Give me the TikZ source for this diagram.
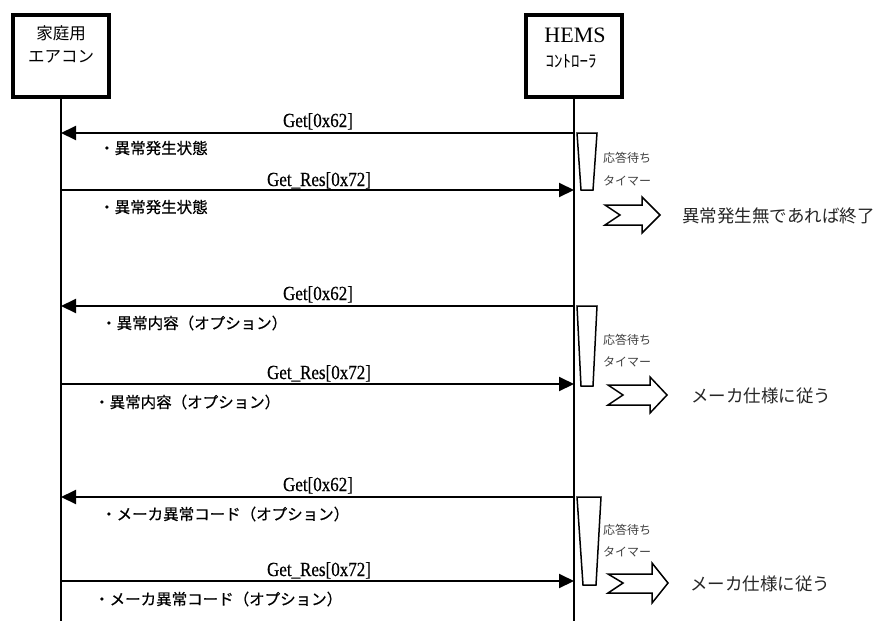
\documentclass[tikz,border=0pt]{standalone}
\usepackage{fontspec}
\setmainfont{Liberation Serif}
\newfontfamily\jp{Noto Sans CJK JP}
\newfontfamily\jpb[FakeBold=0.6]{Noto Sans CJK JP}
\newfontfamily\lab[FakeStretch=0.85,FakeBold=0.5]{Liberation Serif}
\usetikzlibrary{arrows.meta}
\tikzset{
  actor/.style={draw, line width=3.5pt, minimum width=96pt, minimum height=82pt, inner sep=0pt},
  life/.style={line width=1.5pt},
  msg/.style={line width=2pt, -{Triangle[length=15pt,width=14pt]}},
  msglabel/.style={font=\lab\fontsize{20}{22}\selectfont, inner sep=0pt, anchor=base},
  note/.style={font=\jpb\fontsize{15.5}{18}\selectfont, anchor=west, inner sep=0pt},
  timer/.style={draw, line width=1.5pt, fill=white},
  timerlabel/.style={font=\jp\fontsize{12}{14}\selectfont, text=black!75, anchor=west, inner sep=0pt},
  hollow/.style={draw, line width=1.5pt, fill=white},
  result/.style={font=\jp\fontsize{17.5}{20}\selectfont, text=black!85, anchor=west, inner sep=0pt}
}
\begin{document}
\begin{tikzpicture}[x=1pt,y=-1pt]
\useasboundingbox (0,0) rectangle (882,621);
% actors
\node[actor] (lbox) at (61,56) {};
\node[actor] (rbox) at (574,56) {};
\node[font=\jp\fontsize{16.5}{18}\selectfont, inner sep=0pt] (l1) at (61,33) {家庭用};
\node[font=\jp\fontsize{16.5}{18}\selectfont, inner sep=0pt] (l2) at (61,57) {エアコン};
\node[font=\fontsize{22}{24}\selectfont, inner sep=0pt] (r1) at (575,35) {HEMS};
\node[font=\jp\fontsize{17}{19}\selectfont, inner sep=0pt] (r2) at (571,61) {ｺﾝﾄﾛｰﾗ};
% lifelines
\coordinate (lbot) at (61,621);
\coordinate (rbot) at (574,621);
\draw[life] (lbox.south) -- (lbot);
\draw[life] (rbox.south) -- (rbot);

% ---------- section 1
\coordinate (a1r) at (574,133); \coordinate (a1l) at (61,133);
\coordinate (b1l) at (61,190);  \coordinate (b1r) at (574,190);
\draw[msg] (a1r) -- (a1l);
\draw[msg] (b1l) -- (b1r);
\node[msglabel] (ga1) at (318,127) {Get[0x62]};
\node[msglabel] (gb1) at (319,186) {Get\_Res[0x72]};
\node[note] (na1) at (99,148) {・異常発生状態};
\node[note] (nb1) at (99,207) {・異常発生状態};
\draw[timer] (577,133) -- (597,133) -- (593,190) -- (581,190) -- cycle;
\node[timerlabel] (ta1) at (603,158) {応答待ち};
\node[timerlabel] (tb1) at (603,181) {タイマー};
\draw[hollow] (605,205) -- (642,205) -- (642,197) -- (660,215) -- (642,233) -- (642,225) -- (605,225) -- (620,215) -- cycle;
\node[result] (res1) at (682,216) {異常発生無であれば終了};

% ---------- section 2
\coordinate (a2r) at (574,306); \coordinate (a2l) at (61,306);
\coordinate (b2l) at (61,384);  \coordinate (b2r) at (574,384);
\draw[msg] (a2r) -- (a2l);
\draw[msg] (b2l) -- (b2r);
\node[msglabel] (ga2) at (318,300) {Get[0x62]};
\node[msglabel] (gb2) at (319,379) {Get\_Res[0x72]};
\node[note] (na2) at (101,323) {・異常内容（オプション）};
\node[note] (nb2) at (94,402) {・異常内容（オプション）};
\draw[timer] (577,306) -- (597,306) -- (593,386) -- (581,386) -- cycle;
\node[timerlabel] (ta2) at (603,340) {応答待ち};
\node[timerlabel] (tb2) at (603,362) {タイマー};
\draw[hollow] (608,385) -- (650,385) -- (650,377) -- (667,395) -- (650,413) -- (650,405) -- (608,405) -- (623,395) -- cycle;
\node[result] (res2) at (691,396) {メーカ仕様に従う};

% ---------- section 3
\coordinate (a3r) at (574,497); \coordinate (a3l) at (61,497);
\coordinate (b3l) at (61,581);  \coordinate (b3r) at (574,581);
\draw[msg] (a3r) -- (a3l);
\draw[msg] (b3l) -- (b3r);
\node[msglabel] (ga3) at (318,491) {Get[0x62]};
\node[msglabel] (gb3) at (319,576) {Get\_Res[0x72]};
\node[note] (na3) at (101,514) {・メーカ異常コード（オプション）};
\node[note] (nb3) at (94,599) {・メーカ異常コード（オプション）};
\draw[timer] (577,497) -- (601,497) -- (596,585) -- (583,585) -- cycle;
\node[timerlabel] (ta3) at (603,530) {応答待ち};
\node[timerlabel] (tb3) at (603,552) {タイマー};
\draw[hollow] (608,574) -- (652,574) -- (652,563) -- (668,583) -- (652,603) -- (652,593) -- (608,593) -- (623,583) -- cycle;
\node[result] (res3) at (690,584) {メーカ仕様に従う};
\end{tikzpicture}
\end{document}
